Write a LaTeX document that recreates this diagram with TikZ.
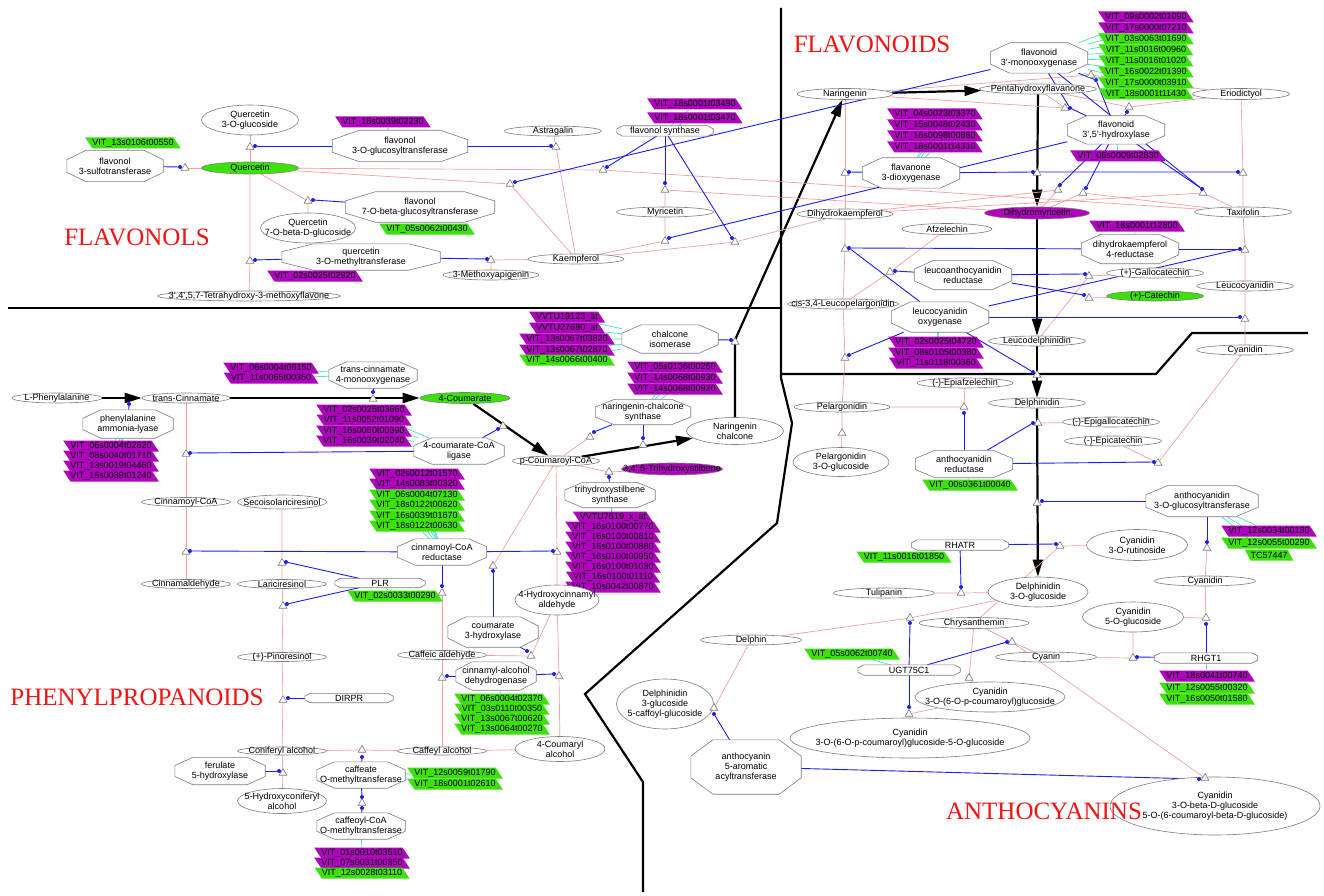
\documentclass[tikz,border=0pt]{standalone}
\usepackage{fontspec}
\setmainfont{Liberation Sans}
\newfontfamily\ttlfont{Liberation Serif}
\usetikzlibrary{shapes.geometric,arrows.meta,calc}
\definecolor{grn}{RGB}{60,225,10}
\definecolor{mag}{RGB}{175,0,190}
\definecolor{pkc}{RGB}{245,160,160}
\definecolor{blc}{RGB}{30,30,235}
\definecolor{cyc}{RGB}{70,225,205}
\definecolor{olc}{RGB}{125,125,125}
\definecolor{ttlc}{RGB}{240,20,20}
\pgfdeclarelayer{bg}\pgfdeclarelayer{mid}\pgfsetlayers{bg,mid,main}
\tikzset{
 lbl/.style={font=\fontsize{9}{10}\selectfont, align=center, inner sep=0pt},
 ell/.style={ellipse, draw=olc, fill=white, line width=0.6pt, inner sep=0pt},
 octn/.style={rectangle, inner sep=0pt},
 octd/.style={draw=olc, fill=white, line width=0.6pt},
 gene/.style={trapezium, trapezium left angle=132, trapezium right angle=48, trapezium stretches=true, minimum height=11pt, minimum width=0pt, inner xsep=0pt, inner ysep=0pt, font=\fontsize{9}{10}\selectfont},
 tri/.style={regular polygon, regular polygon sides=3, draw=olc, fill=white, line width=0.6pt, minimum size=9pt, inner sep=0pt},
 bdot/.style={circle, fill=blc, inner sep=0pt, minimum size=4pt},
 pk/.style={draw=pkc, line width=0.7pt},
 bl/.style={draw=blc, line width=0.9pt},
 cy/.style={draw=cyc, line width=0.7pt},
 bigarr/.style={draw=black, line width=2.2pt, -{Triangle[length=17pt,width=10pt]}},
 border/.style={draw=black, line width=2.2pt},
 ttl/.style={font=\ttlfont\fontsize{25}{30}\selectfont, text=ttlc, inner sep=0pt},
}
\newcommand{\Ell}[6][]{\node[ell,#1,minimum width=#4pt,minimum height=#5pt] (#2) at (#3) {};\node[lbl] (#2-l) at (#2) {#6};}
\newcommand{\Oct}[6][0.2]{%
 \node[octn,minimum width=#4pt,minimum height=#5pt] (#2) at (#3) {};
 \begin{pgfonlayer}{mid}
 \draw[octd] ($(#2.north west)!#1!(#2.north east)$) -- ($(#2.north east)!#1!(#2.north west)$) -- ($(#2.north east)!0.3!(#2.south east)$) -- ($(#2.south east)!0.3!(#2.north east)$) -- ($(#2.south east)!#1!(#2.south west)$) -- ($(#2.south west)!#1!(#2.south east)$) -- ($(#2.south west)!0.3!(#2.north west)$) -- ($(#2.north west)!0.3!(#2.south west)$) -- cycle;
 \end{pgfonlayer}
 \node[lbl] (#2-l) at (#2) {#6};}
\newcommand{\Gen}[4]{\node[gene,fill=#4] (#1) at (#2) {#3};}
\newcommand{\GV}[4]{\node[gene,fill=#4] (#1) at (#2) {VIT\_#3};}
\newcommand{\Tri}[2]{\node[tri] (#1) at (#2) {};}
\newcommand{\Dot}[2]{\node[bdot] (#1) at (#2) {};}
\begin{document}
\begin{tikzpicture}[x=1pt,y=-1pt]
\useasboundingbox (0,0) rectangle (1324,896);
\begin{pgfonlayer}{bg}
\fill[white] (0,0) rectangle (1324,896);
\end{pgfonlayer}
% ---------- FLAVONOLS
\Ell{q3g}{250,120}{97}{30}{Quercetin\\3-O-glucoside}
\GV{gFst}{133,143}{13s0106t00550}{grn}
\Oct{f3st}{115,166}{96}{31}{flavonol\\3-sulfotransferase}
\Tri{tQa}{185,168}\Dot{dQa}{180,167}
\Ell[fill=grn]{quer}{250,168}{97}{12}{Quercetin}
\Tri{tQb}{250,147}\Dot{dQb}{255,146}
\Oct{f3gt}{400,146}{135}{31}{flavonol\\3-O-glucosyltransferase}
\GV{gFgt}{383,122}{16s0039t02230}{mag}
\Tri{tQc}{308,201}\Dot{dQc}{313,200}
\Oct{f7gt}{420,207}{149}{30}{flavonol\\7-O-beta-glucosyltransferase}
\GV{gF7gt}{427,229}{05s0062t00430}{grn}
\Ell{q7g}{308,228}{95}{30}{Quercetin\\7-O-beta-D-glucoside}
\Tri{tQd}{250,261}\Dot{dQd}{255,260}
\Oct{qomt}{361,257}{158}{26}{quercetin\\3-O-methyltransferase}
\GV{gQomt}{315,276}{02s0025t02920}{mag}
\Ell{thm}{249,296}{183}{10}{3',4',5,7-Tetrahydroxy-3-methoxyflavone}
\Ell{astr}{553,131}{97}{10}{Astragalin}
\Tri{tA}{556,147}\Dot{dA}{551,146}
\Tri{tKa}{510,184}\Dot{dKa}{515,182}
\Tri{tKb}{603,170}\Dot{dKb}{607,167}
\Tri{tKc}{491,260}\Dot{dKc}{487,259}
\Ell{mapi}{491,275}{96}{10}{3-Methoxyapigenin}
\Ell{kaem}{576,259}{96}{10}{Kaempferol}
\Oct[0.06]{fls}{665,131}{96}{10}{flavonol synthase}
\GV{gFls1}{695,104}{18s0001t03490}{mag}
\GV{gFls2}{695,118}{18s0001t03470}{mag}
\Ell{myr}{665,212}{97}{10}{Myricetin}
\Tri{tMa}{665,190}\Dot{dMa}{665,183}
\Tri{tMb}{665,241}\Dot{dMb}{669,238}
\Tri{tDk}{735,242}\Dot{dDk}{732,238}
% ---------- FLAVONOIDS
\Ell{nar}{845,94}{96}{11}{Naringenin}
\Ell{pent}{1038,89}{117}{10}{Pentahydroxyflavanone}
\Ell{erio}{1241,94}{97}{11}{Eriodictyol}
\Oct{f3h}{911,173}{97}{30}{flavanone\\3-dioxygenase}
\GV{gF3h1}{935,114}{04s0023t03370}{mag}
\GV{gF3h2}{935,125}{15s0048t02430}{mag}
\GV{gF3h3}{935,136}{16s0098t00860}{mag}
\GV{gF3h4}{935,147}{18s0001t14310}{mag}
\Tri{tFa}{845,173}\Dot{dFa}{849,172}
\Tri{tFb}{1037,173}\Dot{dFb}{1033,172}
\Tri{tFc}{1243,173}\Dot{dFc}{1238,172}
\Oct{f3ph}{1039,58}{97}{30}{flavonoid\\3'-monooxygenase}
\GV{gPh1}{1146,17}{09s0002t01090}{mag}
\GV{gPh2}{1146,28}{17s0000t07210}{mag}
\GV{gPh3}{1146,39}{03s0063t01690}{grn}
\GV{gPh4}{1146,50}{11s0016t00960}{grn}
\GV{gPh5}{1146,61}{11s0016t01020}{grn}
\GV{gPh6}{1146,72}{16s0022t01390}{grn}
\GV{gPh7}{1146,83}{17s0000t03910}{grn}
\GV{gPh8}{1146,94}{18s0001t11430}{grn}
\Oct{f35h}{1116,130}{97}{28}{flavonoid\\3',5'-hydroxylase}
\GV{gF35}{1118,156}{06s0009t02830}{mag}
\Tri{tHa}{1091,75}\Dot{dHa}{1096,80}
\Tri{tHb}{1065,108}\Dot{dHb}{1070,108}
\Tri{tHc}{1129,107}\Dot{dHc}{1127,112}
\Tri{tHd}{1058,190}\Dot{dHd}{1060,185}
\Tri{tHe}{1083,193}\Dot{dHe}{1086,188}
\Tri{tHf}{1203,193}\Dot{dHf}{1202,189}
\Ell[fill=mag]{dm}{1037,213}{105}{12}{Dihydromyricetin}
\Ell{tax}{1243,212}{97}{10}{Taxifolin}
\Ell{dhk}{845,214}{96}{10}{Dihydrokaempferol}
\Ell{afz}{947,229}{90}{11}{Afzelechin}
\GV{gDfr}{1137,226}{18s0001t12800}{mag}
\Oct{dfr}{1130,249}{97}{29}{dihydrokaempferol\\4-reductase}
\Tri{tDa}{845,249}\Dot{dDa}{849,248}
\Tri{tDb}{1245,250}\Dot{dDb}{1240,249}
\Oct{lar}{963,275}{97}{29}{leucoanthocyanidin\\reductase}
\Tri{tLa}{890,272}\Dot{dLa}{895,271}
\Ell{gallo}{1155,273}{97}{10}{(+)-Gallocatechin}
\Ell[fill=grn]{cat}{1155,296}{97}{10}{(+)-Catechin}
\Tri{tLb}{1089,276}\Dot{dLb}{1085,274}
\Tri{tLc}{1089,298}\Dot{dLc}{1084,295}
\Ell{leucy}{1245,286}{97}{10}{Leucocyanidin}
\Ell{cisl}{843,304}{111}{10}{cis-3,4-Leucopelargonidin}
\Oct{ldox}{940,317}{97}{30}{leucocyanidin\\oxygenase}
\GV{gLd1}{936,342}{02s0025t04720}{mag}
\GV{gLd2}{936,353}{08s0105t00380}{mag}
\GV{gLd3}{936,363}{11s0118t00360}{mag}
\Tri{tXa}{845,358}\Dot{dXa}{849,355}
\Tri{tXb}{1245,319}\Dot{dXb}{1240,317}
\Ell{leud}{1037,341}{97}{10}{Leucodelphinidin}
\Ell{cya}{1245,350}{97}{10}{Cyanidin}
\Tri{tXc}{1037,375}\Dot{dXc}{1033,372}
% ---------- PHENYLPROPANOIDS
\Ell{lphe}{57,398}{90}{10}{L-Phenylalanine}
\Ell{tcin}{186,398}{88}{10}{trans-Cinnamate}
\Oct{pal}{128,424}{90}{28}{phenylalanine\\ammonia-lyase}
\Dot{dPal}{129,404}
\GV{gPal1}{111,446}{06s0004t02620}{mag}
\GV{gPal2}{111,456}{08s0040t01710}{mag}
\GV{gPal3}{111,466}{13s0019t04460}{mag}
\GV{gPal4}{111,476}{16s0039t01240}{mag}
\GV{gC4h1}{271,368}{06s0004t08150}{mag}
\GV{gC4h2}{271,378}{11s0065t00350}{mag}
\Oct{c4h}{373,375}{88}{26}{trans-cinnamate\\4-monooxygenase}
\Tri{tC4h}{373,399}\Dot{dC4h}{373,392}
\Ell[fill=grn]{coum}{465,398}{90}{11}{4-Coumarate}
\GV{gCl1}{364,410}{02s0025t03660}{mag}
\GV{gCl2}{364,420}{11s0052t01090}{mag}
\GV{gCl3}{364,431}{16s0050t00390}{mag}
\GV{gCl4}{364,441}{16s0039t02040}{mag}
\Oct{cl}{459,451}{90}{26}{4-coumarate-CoA\\ligase}
\Tri{tCla}{503,426}\Dot{dCla}{498,429}
\Tri{tClb}{186,454}\Dot{dClb}{190,453}
\Ell{pcoa}{556,461}{87}{10}{p-Coumaroyl-CoA}
\Gen{gChi1}{567,317}{VVTU19123\_at}{mag}
\Gen{gChi2}{567,328}{VVTU27680\_at}{mag}
\GV{gChi3}{567,339}{13s0067t03820}{mag}
\GV{gChi4}{567,350}{13s0067t02870}{mag}
\GV{gChi5}{567,360}{14s0066t00400}{grn}
\Oct{chi}{670,339}{96}{28}{chalcone\\isomerase}
\Tri{tChi}{735,342}\Dot{dChi}{731,340}
\GV{gChs1}{675,367}{05s0136t00260}{mag}
\GV{gChs2}{675,378}{14s0068t00930}{mag}
\GV{gChs3}{675,389}{14s0068t00920}{mag}
\Oct{chs}{643,412}{95}{25}{naringenin-chalcone\\synthase}
\Tri{tCsa}{643,445}\Dot{dCsa}{643,438}
\Tri{tCsb}{590,437}\Dot{dCsb}{594,432}
\Ell{narch}{735,431}{97}{27}{Naringenin\\chalcone}
\Ell[fill=mag]{stil}{672,469}{101}{12}{3,4',5-Trihydroxystilbene}
\Tri{tSts}{609,472}\Dot{dSts}{609,477}
\Oct{sts}{610,495}{90}{25}{trihydroxystilbene\\synthase}
\Gen{gSt1}{613,517}{VVTU7619\_x\_at}{mag}
\GV{gSt2}{613,527}{16s0100t00770}{mag}
\GV{gSt3}{613,537}{16s0100t00810}{mag}
\GV{gSt4}{613,547}{16s0100t00880}{mag}
\GV{gSt5}{613,557}{16s0100t00950}{mag}
\GV{gSt6}{613,567}{16s0100t01030}{mag}
\GV{gSt7}{613,577}{16s0100t01110}{mag}
\GV{gSt8}{613,587}{10s0042t00870}{mag}
\GV{gCc1}{417,474}{02s0012t01570}{mag}
\GV{gCc2}{417,484}{14s0083t00320}{mag}
\GV{gCc3}{417,495}{06s0004t07130}{grn}
\GV{gCc4}{417,505}{18s0122t00620}{grn}
\GV{gCc5}{417,516}{16s0039t01670}{grn}
\GV{gCc6}{417,526}{18s0122t00630}{grn}
\Oct{ccr}{442,552}{89}{26}{cinnamoyl-CoA\\reductase}
\Tri{tCra}{186,552}\Dot{dCra}{190,551}
\Tri{tCrb}{557,552}\Dot{dCrb}{553,551}
\Tri{tCrc}{442,593}\Dot{dCrc}{442,586}
\Ell{cinc}{186,502}{89}{9}{Cinnamoyl-CoA}
\Ell{seco}{282,502}{89}{14}{Secoisolariciresinol}
\Ell{cinald}{186,584}{89}{9}{Cinnamaldehyde}
\Ell{lari}{282,584}{89}{9}{Lariciresinol}
\Tri{tPa}{282,563}\Dot{dPa}{286,562}
\Oct[0.06]{plr}{380,583}{90}{9}{PLR}
\GV{gPlr}{395,596}{02s0033t00290}{grn}
\Tri{tPb}{283,606}\Dot{dPb}{287,604}
\Ell{pino}{282,657}{89}{9}{(+)-Pinoresinol}
\Tri{tDir}{283,700}\Dot{dDir}{288,698}
\Oct[0.06]{dirpr}{349,698}{88}{9}{DIRPR}
\Ell{conif}{282,751}{89}{8}{Coniferyl alcohol}
\Tri{tF5}{283,773}\Dot{dF5}{279,771}
\Oct{f5h}{220,771}{90}{27}{ferulate\\5-hydroxylase}
\Ell{hconif}{282,801}{89}{25}{5-Hydroxyconiferyl\\alcohol}
\Tri{tC3a}{493,566}\Dot{dC3a}{493,571}
\Oct{c3h}{493,632}{90}{30}{coumarate\\3-hydroxylase}
\Ell{hcald}{557,600}{84}{30}{4-Hydroxycinnamyl\\aldehyde}
\Tri{tC3b}{531,656}\Dot{dC3b}{527,651}
\Ell{caffald}{442,655}{89}{9}{Caffeic aldehyde}
\Oct{cad}{496,676}{80}{28}{cinnamyl-alcohol\\dehydrogenase}
\Tri{tCda}{442,678}\Dot{dCda}{447,676}
\Tri{tCdb}{559,676}\Dot{dCdb}{554,674}
\GV{gCd1}{502,699}{06s0004t02370}{grn}
\GV{gCd2}{502,709}{03s0110t00350}{grn}
\GV{gCd3}{502,719}{13s0067t00620}{grn}
\GV{gCd4}{502,729}{13s0064t00270}{grn}
\Ell{caffal}{442,751}{89}{8}{Caffeyl alcohol}
\Ell{coumal}{560,749}{90}{25}{4-Coumaryl\\alcohol}
\Tri{tCo}{362,750}\Dot{dCo}{362,757}
\Oct{comt}{361,775}{88}{26}{caffeate\\O-methyltransferase}
\GV{gCo1}{455,773}{12s0059t01790}{grn}
\GV{gCo2}{455,784}{18s0001t02610}{grn}
\Tri{tCc}{362,803}\Dot{dCca}{362,797}\Dot{dCcb}{362,808}
\Oct{ccomt}{361,826}{88}{26}{caffeoyl-CoA\\O-methyltransferase}
\GV{gCm1}{362,853}{01s0010t03510}{mag}
\GV{gCm2}{362,863}{07s0031t00350}{mag}
\GV{gCm3}{362,873}{12s0028t03110}{grn}
% ---------- ANTHOCYANINS
\Ell{epiaf}{965,383}{96}{10}{(-)-Epiafzelechin}
\Ell{pel}{842,407}{96}{10}{Pelargonidin}
\Tri{tAa}{964,407}\Dot{dAa}{964,413}
\Tri{tPel}{842,433}
\Ell{pel3g}{841,462}{96}{29}{Pelargonidin\\3-O-glucoside}
\Oct{anr}{964,464}{97}{27}{anthocyanidin\\reductase}
\GV{gAnr}{970,485}{00s0361t00040}{grn}
\Ell{delph}{1037,403}{97}{10}{Delphinidin}
\Ell{epig}{1111,422}{97}{10}{(-)-Epigallocatechin}
\Ell{epic}{1113,441}{97}{10}{(-)-Epicatechin}
\Tri{tAb}{1038,423}\Dot{dAb}{1033,423}
\Tri{tAc}{1158,463}\Dot{dAc}{1154,462}
\Oct{agt}{1202,501}{112}{31}{anthocyanidin\\3-O-glucosyltransferase}
\Tri{tGa}{1037,503}\Dot{dGa}{1042,501}
\GV{gGt1}{1269,531}{12s0034t00130}{mag}
\GV{gGt2}{1269,543}{12s0055t00290}{grn}
\Gen{gGt3}{1269,555}{TC57447}{grn}
\Tri{tGb}{1207,548}\Dot{dGb}{1207,542}
\Ell{cyb}{1205,581}{101}{10}{Cyanidin}
\Ell{c3r}{1137,545}{101}{31}{Cyanidin\\3-O-rutinoside}
\Tri{tRa}{1060,546}\Dot{dRa}{1056,544}
\Oct[0.06]{rhatr}{960,545}{97}{10}{RHATR}
\GV{gRh}{904,557}{11s0016t01850}{grn}
\Tri{tRb}{961,593}\Dot{dRb}{961,587}
\Ell{tuli}{884,593}{101}{10}{Tulipanin}
\Ell{dtg}{1038,592}{100}{30}{Delphinidin\\3-O-glucoside}
\Tri{tUa}{910,618}\Dot{dUa}{910,623}
\Ell{chrys}{974,623}{110}{11}{Chrysanthemin}
\Ell{delphin}{751,640}{101}{10}{Delphin}
\GV{gUgt}{852,654}{05s0062t00740}{grn}
\Oct[0.06]{ugt}{909,670}{102}{10}{UGT75C1}
\Tri{tUb}{1012,642}\Dot{dUb}{1007,642}
\Ell{cyanin}{1046,657}{101}{10}{Cyanin}
\Ell{c5g}{1133,617}{101}{30}{Cyanidin\\5-O-glucoside}
\Tri{tRga}{1206,618}\Dot{dRga}{1206,624}
\Tri{tRgb}{1133,658}\Dot{dRgb}{1137,657}
\Oct[0.06]{rhgt}{1206,658}{103}{10}{RHGT1}
\GV{gRg1}{1207,676}{18s0041t00740}{mag}
\GV{gRg2}{1207,688}{12s0055t00320}{grn}
\GV{gRg3}{1207,699}{16s0050t01580}{grn}
\Tri{tChr}{969,678}
\Ell{ccg}{990,697}{150}{30}{Cyanidin\\3-O-(6-O-p-coumaroyl)glucoside}
\Tri{tCg}{909,714}\Dot{dCg}{909,707}
\Ell{ccgg}{910,738}{240}{40}{Cyanidin\\3-O-(6-O-p-coumaroyl)glucoside-5-O-glucoside}
\Ell{dcg}{665,704}{97}{50}{Delphinidin\\3-glucoside\\5-caffoyl-glucoside}
\Tri{tAt}{714,708}\Dot{dAt}{714,714}
\Oct{aat}{746,767}{110}{54}{anthocyanin\\5-aromatic\\acyltransferase}
\Ell{fin}{1215,806}{210}{58}{Cyanidin\\3-O-beta-D-glucoside\\5-O-(6-coumaroyl-beta-D-glucoside)}
\Tri{tFin}{1205,778}\Dot{dFin}{1199,779}
\coordinate (bendN) at (735,340);
% ---------- titles (on top)
\node[ttl] (tFlavonols) at (137,237) {FLAVONOLS};
\node[ttl] (tFlavonoids) at (872,44) {FLAVONOIDS};
\node[ttl] (tPhenyl) at (137,697) {PHENYLPROPANOIDS};
\node[ttl] (tAntho) at (1044,811) {ANTHOCYANINS};
% ================= CONNECTORS
\begin{pgfonlayer}{bg}
% borders
\draw[border] (781,8) -- (781,378) -- (792,423) -- (777,523) -- (585,694) -- (643,782) -- (643,892);
\draw[border] (8,308) -- (781,308);
\draw[border] (781,374) -- (1156,374) -- (1192,333) -- (1308,333);
% cyan gene links
\foreach \g/\e in {gFst/f3st,gFgt/f3gt,gF7gt/f7gt,gQomt/qomt,gFls1/fls,gFls2/fls,gF3h1/f3h,gF3h2/f3h,gF3h3/f3h,gF3h4/f3h,gPh1/f3ph,gPh2/f3ph,gPh3/f3ph,gPh4/f3ph,gPh5/f3ph,gPh6/f3ph,gPh7/f3ph,gPh8/f3ph,gF35/f35h,gDfr/dfr,gLd1/ldox,gLd2/ldox,gLd3/ldox,gPal1/pal,gPal2/pal,gPal3/pal,gPal4/pal,gC4h1/c4h,gC4h2/c4h,gCl1/cl,gCl2/cl,gCl3/cl,gCl4/cl,gChi1/chi,gChi2/chi,gChi3/chi,gChi4/chi,gChi5/chi,gChs1/chs,gChs2/chs,gChs3/chs,gSt1/sts,gSt2/sts,gCc1/ccr,gCc2/ccr,gCc3/ccr,gCc4/ccr,gCc5/ccr,gCc6/ccr,gPlr/plr,gCd1/cad,gCo1/comt,gCo2/comt,gCm1/ccomt,gAnr/anr,gGt1/agt,gGt2/agt,gGt3/agt,gRh/rhatr,gUgt/ugt,gRg1/rhgt}
  \draw[cy] (\g) -- (\e);
% big black arrows
\draw[bigarr] (lphe) -- (tcin);
\draw[bigarr] (tcin) -- (coum);
\draw[bigarr] (coum) -- (pcoa);
\draw[bigarr] (pcoa) -- (narch);
\draw[bigarr] (narch.north) -- (bendN) -- (nar);
\draw[bigarr] (nar) -- (pent);
\draw[bigarr] (pent) -- (dm);
\draw[bigarr] (dm) -- (leud);
\draw[bigarr] (leud) -- (delph);
\draw[bigarr] (delph) -- (dtg);
% pink reaction lines: flavonols
\draw[pk] (tQa) -- (quer);
\draw[pk] (q3g) -- (tQb) -- (quer);
\draw[pk] (quer) -- (tQd) -- (thm);
\draw[pk] (quer) -- (tQc) -- (q7g);
\draw[pk] (quer) -- (tKa) -- (kaem);
\draw[pk] (quer) -- (tKb) -- (tax);
\draw[pk] (kaem) -- (tKc) -- (mapi);
\draw[pk] (kaem) -- (tA) -- (astr);
\draw[pk] (kaem) -- (tMb) -- (myr);
\draw[pk] (myr) -- (tMa) -- (dm);
\draw[pk] (kaem) -- (tDk) -- (dhk);
% flavonoids
\draw[pk] (nar) -- (tFa) -- (dhk);
\draw[pk] (dhk) -- (tDa) -- (cisl) -- (tXa) -- (pel);
\draw[pk] (erio) -- (tFc) -- (tax) -- (tDb) -- (leucy) -- (tXb) -- (cya);
\draw[pk] (nar) -- (tHa) -- (erio);
\draw[pk] (nar) -- (tHb) -- (pent);
\draw[pk] (erio) -- (tHc) -- (pent);
\draw[pk] (dhk) -- (tHd) -- (dm);
\draw[pk] (tax) -- (tHe) -- (dm);
\draw[pk] (dhk) -- (tHf) -- (tax);
\draw[pk] (afz) -- (tLa) -- (cisl);
\draw[pk] (leud) -- (tLb) -- (gallo);
\draw[pk] (tLc) -- (cat);
% phenylpropanoids
\draw[pk] (tcin) -- (tClb) -- (cinc) -- (tCra) -- (cinald);
\draw[pk] (seco) -- (tPa) -- (lari) -- (tPb) -- (pino) -- (tDir) -- (conif) -- (tF5) -- (hconif);
\draw[pk] (pcoa) -- (tCsb);
\draw[pk] (pcoa) -- (tSts) -- (stil);
\draw[pk] (pcoa) -- (tCrb) -- (hcald);
\draw[pk] (pcoa) -- (tC3a);
\draw[pk] (tCrc) -- (caffald) -- (tCda) -- (caffal);
\draw[pk] (hcald) -- (tC3b) -- (caffald);
\draw[pk] (hcald) -- (tCdb) -- (coumal);
\draw[pk] (conif) -- (tCo) -- (caffal) -- (coumal);
% anthocyanins
\draw[pk] (pel) -- (tAa) -- (epiaf);
\draw[pk] (pel) -- (tPel) -- (pel3g);
\draw[pk] (tAb) -- (epig);
\draw[pk] (epic) -- (tAc) -- (cya);
\draw[pk] (cyb) -- (tGb);
\draw[pk] (cyb) -- (tRga) -- (c5g);
\draw[pk] (cyanin) -- (tRgb) -- (c5g);
\draw[pk] (c3r) -- (tRa) -- (chrys);
\draw[pk] (tuli) -- (tRb) -- (dtg);
\draw[pk] (delphin) -- (tUa) -- (dtg);
\draw[pk] (chrys) -- (tUb) -- (cyanin);
\draw[pk] (tUb) -- (tFin) -- (fin);
\draw[pk] (chrys) -- (tChr) -- (ccg);
\draw[pk] (ccg) -- (tCg) -- (ccgg);
\draw[pk] (delphin) -- (tAt) -- (dcg);
% blue enzyme lines: flavonols
\draw[bl] (f3st) -- (dQa);
\draw[bl] (dQb) -- (f3gt);
\draw[bl] (f3gt) -- (dA);
\draw[bl] (dQc) -- (f7gt);
\draw[bl] (dQd) -- (qomt);
\draw[bl] (qomt) -- (dKc);
\draw[bl] (fls) -- (dMa);
\draw[bl] (fls) -- (dDk);
\draw[bl] (dKb) -- (fls);
\draw[bl] (dKa) -- (f3ph);
\draw[bl] (dMb) -- (f35h);
% flavonoids
\draw[bl] (f3h) -- (dFa);
\draw[bl] (f3h) -- (dFb) -- (dFc);
\draw[bl] (f3ph) -- (dHa);
\draw[bl] (f3ph) -- (dHb);
\draw[bl] (f3ph) -- (dHf);
\draw[bl] (f35h) -- (dHa);
\draw[bl] (f35h) -- (dHb);
\draw[bl] (f35h) -- (dHc);
\draw[bl] (f35h) -- (dHd);
\draw[bl] (f35h) -- (dHe);
\draw[bl] (f35h) -- (dHf);
\draw[bl] (dDa) -- (dfr);
\draw[bl] (dfr) -- (dDb);
\draw[bl] (lar) -- (dLa);
\draw[bl] (lar) -- (dLb);
\draw[bl] (lar) -- (dLc);
\draw[bl] (ldox) -- (dDa);
\draw[bl] (ldox) -- (dXa);
\draw[bl] (ldox) -- (dDb);
\draw[bl] (ldox) -- (dXb);
\draw[bl] (ldox) -- (dXc);
% phenylpropanoids
\draw[bl] (pal) -- (dPal);
\draw[bl] (c4h) -- (dC4h);
\draw[bl] (cl) -- (dCla);
\draw[bl] (cl) -- (dClb);
\draw[bl] (chi) -- (dChi);
\draw[bl] (chs) -- (dCsa);
\draw[bl] (chs) -- (dCsb);
\draw[bl] (sts) -- (dSts);
\draw[bl] (ccr) -- (dCra);
\draw[bl] (ccr) -- (dCrb);
\draw[bl] (ccr) -- (dCrc);
\draw[bl] (plr) -- (dPa);
\draw[bl] (plr) -- (dPb);
\draw[bl] (dirpr) -- (dDir);
\draw[bl] (f5h) -- (dF5);
\draw[bl] (c3h) -- (dC3a);
\draw[bl] (c3h) -- (dC3b);
\draw[bl] (cad) -- (dCda);
\draw[bl] (cad) -- (dCdb);
\draw[bl] (comt) -- (dCo);
\draw[bl] (comt) -- (dCca);
\draw[bl] (ccomt) -- (dCcb);
% anthocyanins
\draw[bl] (anr) -- (dAa);
\draw[bl] (anr) -- (dAb);
\draw[bl] (anr) -- (dAc);
\draw[bl] (agt) -- (dGa);
\draw[bl] (dGb |- agt.south) -- (dGb);
\draw[bl] (rhatr) -- (dRa);
\draw[bl] (rhatr) -- (dRb);
\draw[bl] (ugt) -- (dUa);
\draw[bl] (ugt) -- (dUb);
\draw[bl] (ugt) -- (dCg);
\draw[bl] (rhgt) -- (dRga);
\draw[bl] (rhgt) -- (dRgb);
\draw[bl] (aat) -- (dAt);
\draw[bl] (aat) -- (dFin);
\end{pgfonlayer}
\end{tikzpicture}
\end{document}
